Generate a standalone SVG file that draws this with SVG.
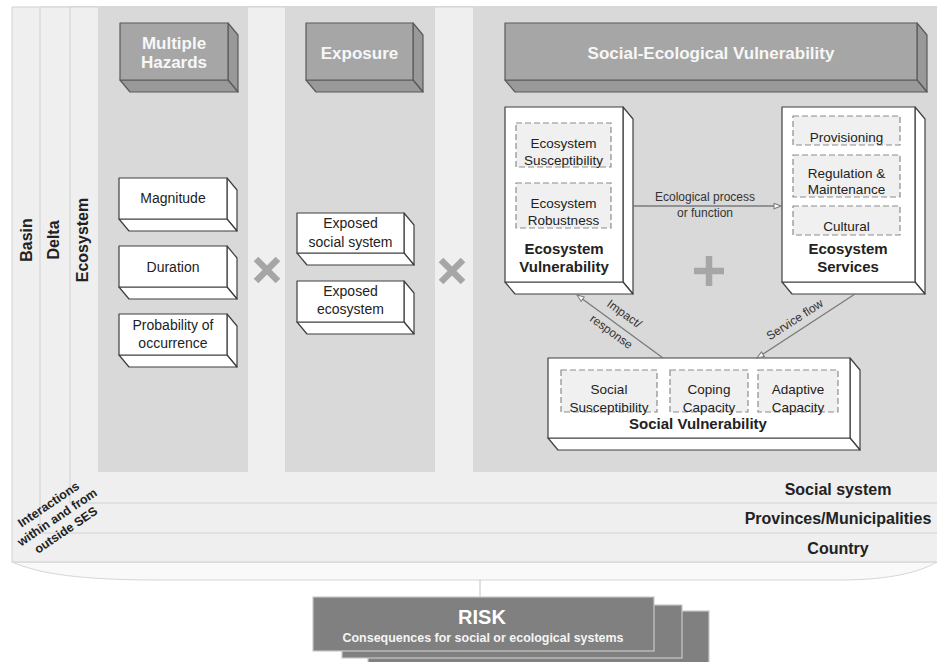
<svg xmlns="http://www.w3.org/2000/svg" width="937" height="662" viewBox="0 0 937 662">
  <style>
    text { font-family: "Liberation Sans", Arial, sans-serif; fill: #222; }
    .band { fill: #efefef; stroke: #d2d2d2; stroke-width: 1; }
    .panel { fill: #d9d9d9; }
    .hf { fill: #a6a6a6; stroke: #5a5a5a; stroke-width: 1.2; stroke-linejoin: round; }
    .hs { fill: #999999; stroke: #5a5a5a; stroke-width: 1.2; stroke-linejoin: round; }
    .wf { fill: #ffffff; stroke: #3f3f3f; stroke-width: 1.2; stroke-linejoin: round; }
    .dash { fill: #f0f0f0; stroke: #8c8c8c; stroke-width: 1.2; stroke-dasharray: 6 3; }
    .ht { font-weight: bold; font-size: 17px; fill: #f7f7f7; text-anchor: middle; }
    .bt { font-size: 14px; text-anchor: middle; }
    .st { font-size: 13.5px; text-anchor: middle; }
    .bb { font-size: 15px; font-weight: bold; text-anchor: middle; }
    .lbl { font-size: 16px; font-weight: bold; text-anchor: middle; }
    .edge { fill: none; stroke: #7a7a7a; stroke-width: 1.3; }
    .el { font-size: 12px; text-anchor: middle; fill: #333; }
    .op { fill: none; stroke: #a6a6a6; stroke-width: 6.5; }
    .risk { fill: #808080; stroke: #c8c8c8; stroke-width: 1.2; }
  </style>
  <defs>
    <marker id="open" viewBox="0 0 10 8" refX="9" refY="4" markerWidth="9" markerHeight="7" markerUnits="userSpaceOnUse" orient="auto">
      <path d="M1,1 L9,4 L1,7 z" fill="#ffffff" stroke="#7a7a7a" stroke-width="1.2"/>
    </marker>
  </defs>

  <!-- nested scale bands: basin, delta, ecosystem -->
  <g id="scales">
    <path d="M12,562 C40,574 80,580 160,580 L840,580 C890,580 920,572 937,562 Z" fill="#f9f9f9" stroke="#d6d6d6"/>
    <rect class="band" x="12" y="7" width="940" height="555"/>
    <rect class="band" x="40" y="7" width="910" height="526"/>
    <rect class="band" x="70" y="7" width="880" height="496"/>
    <rect class="panel" x="98" y="7" width="150" height="465"/>
    <rect class="panel" x="285" y="7" width="150" height="465"/>
    <rect class="panel" x="473" y="7" width="470" height="465"/>
    <line x1="480" y1="580" x2="480" y2="597" stroke="#c4c4c4" stroke-width="1"/>
    <text class="lbl" transform="translate(32,240) rotate(-90)">Basin</text>
    <text class="lbl" transform="translate(59,240) rotate(-90)">Delta</text>
    <text class="lbl" transform="translate(88,240) rotate(-90)">Ecosystem</text>
    <g transform="translate(57,517) rotate(-34)" font-size="12.5" font-weight="bold">
      <text x="0" y="-11" text-anchor="middle">Interactions</text>
      <text x="0" y="4.5" text-anchor="middle">within and from</text>
      <text x="0" y="20" text-anchor="middle">outside SES</text>
    </g>
    <text class="lbl" x="838" y="495">Social system</text>
    <text class="lbl" x="838" y="524">Provinces/Municipalities</text>
    <text class="lbl" x="838" y="554">Country</text>
  </g>

  <!-- header blocks -->
  <g id="multiple-hazards">
    <polygon class="hs" points="228,23 238,35 238,92 228,80"/>
    <polygon class="hs" points="120,80 228,80 238,92 130,92"/>
    <rect class="hf" x="120" y="23" width="108" height="57"/>
    <text class="ht" x="174" y="49">Multiple</text>
    <text class="ht" x="174" y="68">Hazards</text>
  </g>
  <g id="exposure">
    <polygon class="hs" points="413,23 423,35 423,92 413,80"/>
    <polygon class="hs" points="306,80 413,80 423,92 316,92"/>
    <rect class="hf" x="306" y="23" width="107" height="57"/>
    <text class="ht" x="359.5" y="59">Exposure</text>
  </g>
  <g id="social-ecological-vulnerability">
    <polygon class="hs" points="917,23 927,35 927,92 917,80"/>
    <polygon class="hs" points="505,80 917,80 927,92 515,92"/>
    <rect class="hf" x="505" y="23" width="412" height="57"/>
    <text class="ht" x="711" y="59">Social-Ecological Vulnerability</text>
  </g>

  <!-- hazard attributes -->
  <g id="magnitude">
    <polygon class="wf" points="227,178 237,190 237,231 227,219"/>
    <polygon class="wf" points="119,219 227,219 237,231 129,231"/>
    <rect class="wf" x="119" y="178" width="108" height="41"/>
    <text class="bt" x="173" y="203">Magnitude</text>
  </g>
  <g id="duration">
    <polygon class="wf" points="227,246 237,258 237,299 227,287"/>
    <polygon class="wf" points="119,287 227,287 237,299 129,299"/>
    <rect class="wf" x="119" y="246" width="108" height="41"/>
    <text class="bt" x="173" y="272">Duration</text>
  </g>
  <g id="probability">
    <polygon class="wf" points="227,314 237,326 237,367 227,355"/>
    <polygon class="wf" points="119,355 227,355 237,367 129,367"/>
    <rect class="wf" x="119" y="314" width="108" height="41"/>
    <text class="bt" x="173" y="330">Probability of</text>
    <text class="bt" x="173" y="348">occurrence</text>
  </g>

  <!-- exposure items -->
  <g id="exposed-social">
    <polygon class="wf" points="404,213 414,225 414,265 404,253"/>
    <polygon class="wf" points="297,253 404,253 414,265 307,265"/>
    <rect class="wf" x="297" y="213" width="107" height="40"/>
    <text class="bt" x="350.5" y="228">Exposed</text>
    <text class="bt" x="350.5" y="247">social system</text>
  </g>
  <g id="exposed-ecosystem">
    <polygon class="wf" points="404,281 414,293 414,334 404,322"/>
    <polygon class="wf" points="297,322 404,322 414,334 307,334"/>
    <rect class="wf" x="297" y="281" width="107" height="41"/>
    <text class="bt" x="350.5" y="296">Exposed</text>
    <text class="bt" x="350.5" y="314">ecosystem</text>
  </g>

  <!-- multiplication / addition signs -->
  <g id="operators">
    <path class="op" d="M256,259 L278,281 M278,259 L256,281"/>
    <path class="op" d="M441,260 L463,282 M463,260 L441,282"/>
    <path class="op" d="M709,256 L709,286 M694,271 L724,271" stroke-width="7"/>
  </g>

  <!-- ecosystem vulnerability -->
  <g id="ecosystem-vulnerability">
    <polygon class="wf" points="623,107 633,119 633,294 623,282"/>
    <polygon class="wf" points="505,282 623,282 633,294 515,294"/>
    <rect class="wf" x="505" y="107" width="118" height="175"/>
    <rect class="dash" x="516" y="123" width="95" height="44"/>
    <text class="st" x="563.5" y="148">Ecosystem</text>
    <text class="st" x="563.5" y="165">Susceptibility</text>
    <rect class="dash" x="516" y="183" width="95" height="45"/>
    <text class="st" x="563.5" y="208">Ecosystem</text>
    <text class="st" x="563.5" y="225">Robustness</text>
    <text class="bb" x="564" y="254">Ecosystem</text>
    <text class="bb" x="564" y="272">Vulnerability</text>
  </g>

  <!-- ecosystem services -->
  <g id="ecosystem-services">
    <polygon class="wf" points="915,107 925,119 925,294 915,282"/>
    <polygon class="wf" points="782,282 915,282 925,294 792,294"/>
    <rect class="wf" x="782" y="107" width="133" height="175"/>
    <rect class="dash" x="793" y="116" width="107" height="29"/>
    <text class="st" x="846.5" y="142">Provisioning</text>
    <rect class="dash" x="793" y="155" width="107" height="42"/>
    <text class="st" x="846.5" y="178">Regulation &amp;</text>
    <text class="st" x="846.5" y="194">Maintenance</text>
    <rect class="dash" x="793" y="206" width="107" height="29"/>
    <text class="st" x="846.5" y="231">Cultural</text>
    <text class="bb" x="848" y="254">Ecosystem</text>
    <text class="bb" x="848" y="272">Services</text>
  </g>

  <!-- social vulnerability -->
  <g id="social-vulnerability">
    <polygon class="wf" points="850,358 860,370 860,450 850,438"/>
    <polygon class="wf" points="548,438 850,438 860,450 558,450"/>
    <rect class="wf" x="548" y="358" width="302" height="80"/>
    <rect class="dash" x="561" y="370" width="96" height="42"/>
    <text class="st" x="609" y="394">Social</text>
    <text class="st" x="609" y="412">Susceptibility</text>
    <rect class="dash" x="670" y="370" width="78" height="42"/>
    <text class="st" x="709" y="394">Coping</text>
    <text class="st" x="709" y="412">Capacity</text>
    <rect class="dash" x="758" y="370" width="80" height="42"/>
    <text class="st" x="798" y="394">Adaptive</text>
    <text class="st" x="798" y="412">Capacity</text>
    <text class="bb" x="698" y="429">Social Vulnerability</text>
  </g>

  <!-- flows between components -->
  <g id="connectors">
    <line class="edge" x1="633" y1="206" x2="781" y2="206" marker-end="url(#open)"/>
    <text class="el" x="705" y="201" font-size="13.5">Ecological process</text>
    <text class="el" x="705" y="217" font-size="13.5">or function</text>
    <line class="edge" x1="663" y1="358" x2="577" y2="295" marker-end="url(#open)"/>
    <text class="el" transform="translate(622,317) rotate(36)">Impact/</text>
    <text class="el" transform="translate(609,335) rotate(36)">response</text>
    <line class="edge" x1="855" y1="294" x2="757" y2="358" marker-end="url(#open)"/>
    <text class="el" transform="translate(797,323) rotate(-33)">Service flow</text>
  </g>

  <!-- risk outcome stack -->
  <g id="risk">
    <rect class="risk" x="368" y="611" width="341" height="60"/>
    <rect class="risk" x="342" y="605" width="340" height="53"/>
    <rect class="risk" x="313" y="597" width="341" height="54"/>
    <text x="482" y="624" text-anchor="middle" font-size="20" font-weight="bold" style="fill:#ffffff">RISK</text>
    <text x="483" y="642" text-anchor="middle" font-size="12" font-weight="bold" textLength="281" lengthAdjust="spacingAndGlyphs" style="fill:#f4f4f4">Consequences for social or ecological systems</text>
  </g>
</svg>
